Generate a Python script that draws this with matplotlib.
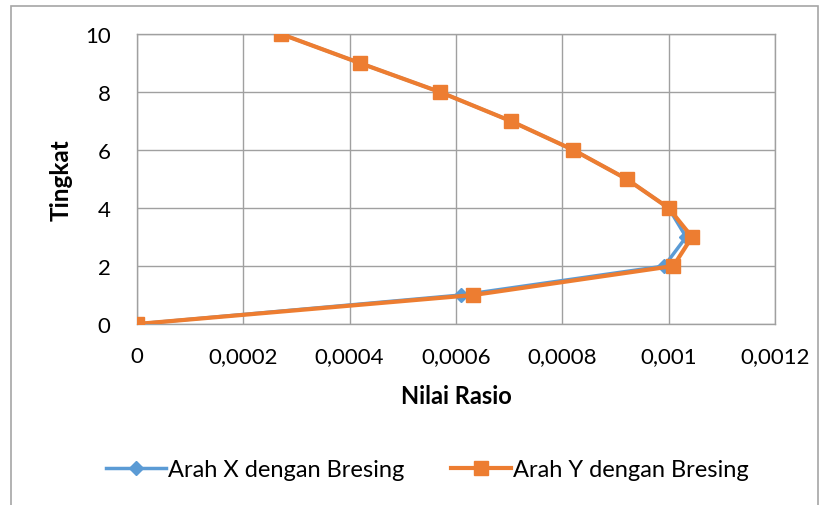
import matplotlib.pyplot as plt
from matplotlib.patches import Rectangle

plt.rcParams['font.family'] = ['Lato', 'DejaVu Sans']

tingkat = [0, 1, 2, 3, 4, 5, 6, 7, 8, 9, 10]
rasio_x = [0, 0.000610, 0.000992, 0.001033, 0.001000, 0.000921, 0.000821, 0.000703, 0.000570, 0.000419, 0.000271]
rasio_y = [0, 0.000633, 0.001009, 0.001044, 0.001000, 0.000921, 0.000821, 0.000703, 0.000570, 0.000419, 0.000271]

xticks = [0, 0.0002, 0.0004, 0.0006, 0.0008, 0.001, 0.0012]
xtick_labels = ['0', '0,0002', '0,0004', '0,0006', '0,0008', '0,001', '0,0012']
yticks = [0, 2, 4, 6, 8, 10]

fig = plt.figure(figsize=(8.27, 5.06), dpi=100)
ax = fig.add_axes([0.1656, 0.3577, 0.7714, 0.5731])

# outer chart border
fig.add_artist(Rectangle((10.5 / 827, -0.05), 807 / 827, 1 - 6.5 / 506 + 0.05,
                         transform=fig.transFigure, fill=False,
                         edgecolor='#a6a6a6', linewidth=1.2))

ax.plot(rasio_x, tingkat, color='#5B9BD5', linewidth=2.5, marker='D',
        markersize=7, label='Arah X dengan Bresing', zorder=3)
ax.plot(rasio_y, tingkat, color='#ED7D31', linewidth=3, marker='s',
        markersize=10, label='Arah Y dengan Bresing', zorder=4)

ax.set_xlim(0, 0.0012)
ax.set_ylim(0, 10)
ax.set_xticks(xticks)
ax.set_xticklabels(xtick_labels)
ax.set_yticks(yticks)
ax.grid(True, color='#a0a0a0', linewidth=1)
ax.set_axisbelow(True)
for s in ax.spines.values():
    s.set_color('#a0a0a0')
    s.set_linewidth(1)
ax.tick_params(axis='both', length=0, labelsize=16)
ax.tick_params(axis='y', pad=19)
ax.tick_params(axis='x', pad=16)
for lab in ax.get_xticklabels() + ax.get_yticklabels():
    lab.set_clip_on(False)

ax.set_xlabel('Nilai Rasio', fontsize=17, fontweight='bold', labelpad=13)
ax.set_ylabel('Tingkat', fontsize=17.5, fontweight='bold', labelpad=9)

fig.legend(loc='center', bbox_to_anchor=(0.517, 0.07), ncol=2, frameon=False,
           fontsize=17, handlelength=2.5, columnspacing=2.0, handletextpad=0.1)

fig.savefig('out.png', dpi=100)
